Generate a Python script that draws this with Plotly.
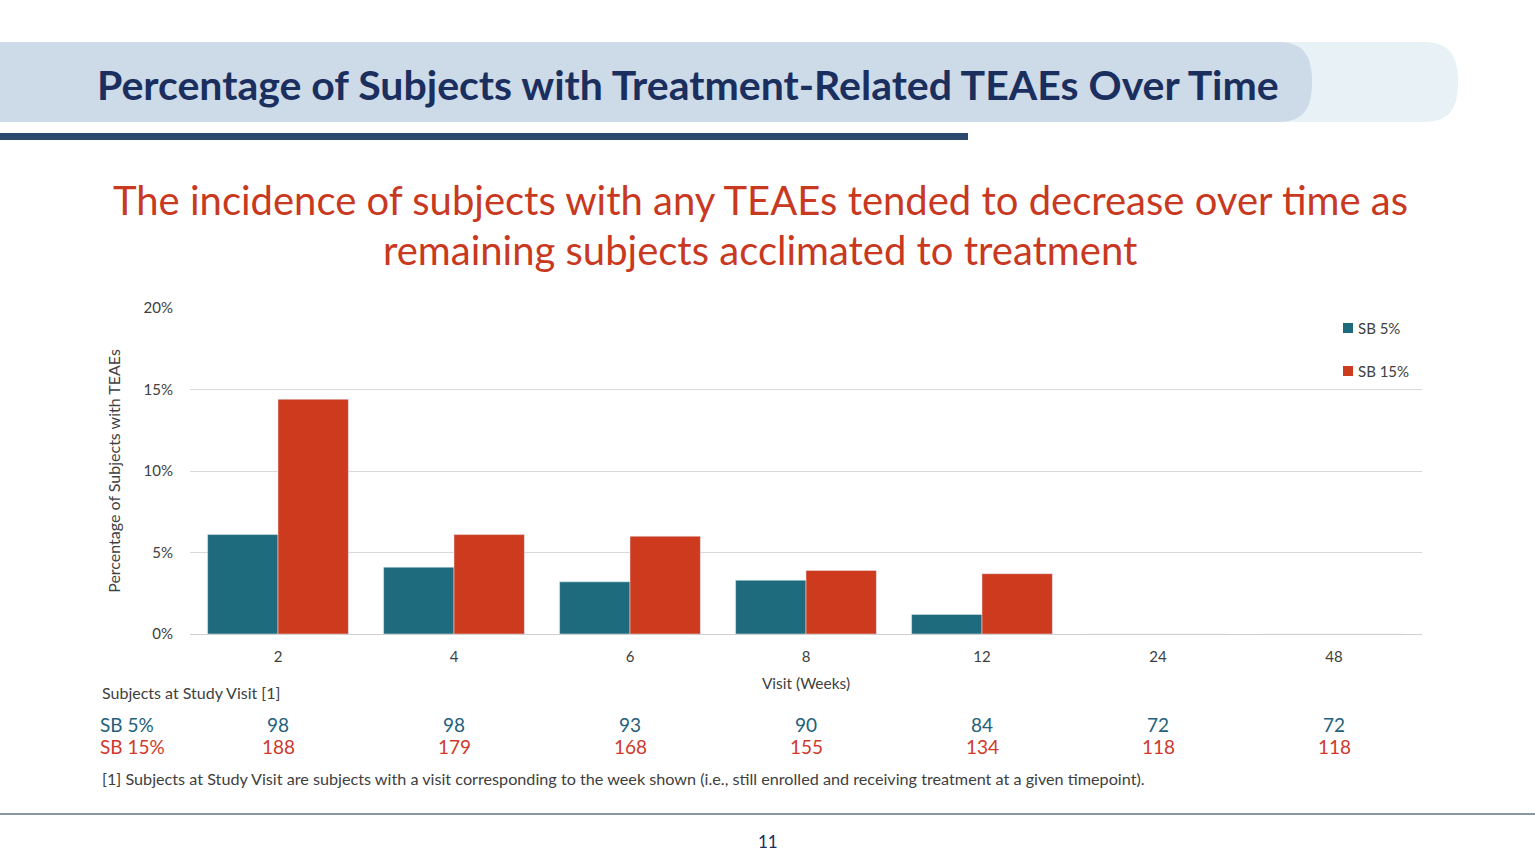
import plotly.graph_objects as go

weeks = ["2", "4", "6", "8", "12", "24", "48"]
sb5_pct = [6.1, 4.1, 3.2, 3.3, 1.2, 0, 0]
sb15_pct = [14.4, 6.1, 6.0, 3.9, 3.7, 0, 0]
sb5_n = [98, 98, 93, 90, 84, 72, 72]
sb15_n = [188, 179, 168, 155, 134, 118, 118]
y_ticks = [0, 5, 10, 15, 20]
y_tick_labels = ["0%", "5%", "10%", "15%", "20%"]
series_names = ["SB 5%", "SB 15%"]

TEAL = "#1F6B7E"
RED = "#CE3A1E"
NAVY = "#1B2F5F"
GRAY = "#404040"
FONT = "Lato"

W, H = 1535, 862
L, R, T, B = 190, 1422, 308, 634


def px(x):
    return (x - L) / (R - L)


def py(y):
    return (B - y) / (B - T)


fig = go.Figure()
fig.add_trace(go.Bar(x=weeks, y=sb5_pct, name=series_names[0], marker_color=TEAL, showlegend=False))
fig.add_trace(go.Bar(x=weeks, y=sb15_pct, name=series_names[1], marker_color=RED, showlegend=False))

shapes = []


def band(x0, x1, y0, y1, r, color):
    path = (f"M {px(x0)},{py(y0)} L {px(x1 - r)},{py(y0)} "
            f"C {px(x1 - r * 0.2)},{py(y0)} {px(x1)},{py(y0 + (y1 - y0) * 0.2)} {px(x1)},{py((y0 + y1) / 2)} "
            f"C {px(x1)},{py(y1 - (y1 - y0) * 0.2)} {px(x1 - r * 0.2)},{py(y1)} {px(x1 - r)},{py(y1)} "
            f"L {px(x0)},{py(y1)} Z")
    return dict(type="path", xref="paper", yref="paper", path=path,
                fillcolor=color, line=dict(width=0), layer="below")


shapes.append(band(0, 1458, 42, 122, 34, "#E8F1F5"))
shapes.append(band(0, 1312, 42, 122, 34, "#CDDAE7"))
shapes.append(dict(type="rect", xref="paper", yref="paper", x0=px(0), x1=px(968),
                   y0=py(133), y1=py(140), fillcolor="#2C4A6E", line=dict(width=0)))
shapes.append(dict(type="line", xref="paper", yref="paper", x0=px(0), x1=px(W),
                   y0=py(814), y1=py(814), line=dict(color="#8A96A6", width=2)))

annotations = []
annotations.append(dict(text="<b>Percentage of Subjects with Treatment-Related TEAEs Over Time</b>",
                        xref="paper", yref="paper", x=px(688), y=py(84), showarrow=False,
                        xanchor="center", yanchor="middle",
                        font=dict(family=FONT, size=41, color=NAVY)))
for txt, yy, anc in [("The incidence of subjects with any TEAEs tended to decrease over time as", 225, "bottom"),
                     ("remaining subjects acclimated to treatment", 225, "top")]:
    annotations.append(dict(text=txt, xref="paper", yref="paper", x=px(760), y=py(yy),
                            showarrow=False, xanchor="center", yanchor=anc, borderpad=0,
                            font=dict(family=FONT, size=40, color="#C8391F")))
annotations.append(dict(text="Subjects at Study Visit [1]", xref="paper", yref="paper",
                        x=px(100), y=py(692), showarrow=False, xanchor="left", yanchor="middle",
                        font=dict(family=FONT, size=16, color=GRAY)))
annotations.append(dict(text=series_names[0], xref="paper", yref="paper",
                        x=px(98), y=py(724), showarrow=False, xanchor="left", yanchor="middle",
                        font=dict(family=FONT, size=19, color="#22617A")))
annotations.append(dict(text=series_names[1], xref="paper", yref="paper",
                        x=px(98), y=py(746), showarrow=False, xanchor="left", yanchor="middle",
                        font=dict(family=FONT, size=19, color="#D0392A")))
for i, (a, b) in enumerate(zip(sb5_n, sb15_n)):
    annotations.append(dict(text=str(a), xref="x", yref="paper", x=i, y=py(724),
                            showarrow=False, xanchor="center", yanchor="middle",
                            font=dict(family=FONT, size=19, color="#22617A")))
    annotations.append(dict(text=str(b), xref="x", yref="paper", x=i, y=py(746),
                            showarrow=False, xanchor="center", yanchor="middle",
                            font=dict(family=FONT, size=19, color="#D0392A")))
annotations.append(dict(text="[1] Subjects at Study Visit are subjects with a visit corresponding to the week shown (i.e., still enrolled and receiving treatment at a given timepoint).",
                        xref="paper", yref="paper", x=px(100), y=py(778), showarrow=False,
                        xanchor="left", yanchor="middle",
                        font=dict(family=FONT, size=16.2, color=GRAY)))
annotations.append(dict(text="11", xref="paper", yref="paper", x=px(768), y=py(841),
                        showarrow=False, xanchor="center", yanchor="middle",
                        font=dict(family=FONT, size=17, color=NAVY)))

# legend (manual, top right)
for name, color, yy in [(series_names[0], TEAL, 328), (series_names[1], RED, 371)]:
    shapes.append(dict(type="rect", xref="paper", yref="paper", x0=px(1343), x1=px(1353),
                       y0=py(yy - 5), y1=py(yy + 5), fillcolor=color, line=dict(width=0)))
    annotations.append(dict(text=name, xref="paper", yref="paper", x=px(1356), y=py(yy),
                            showarrow=False, xanchor="left", yanchor="middle",
                            font=dict(family=FONT, size=15, color=GRAY)))

fig.update_layout(
    width=W, height=H,
    margin=dict(l=L, r=W - R, t=T, b=H - B, pad=0),
    paper_bgcolor="white", plot_bgcolor="white",
    barmode="group", bargap=0.2, bargroupgap=0,
    font=dict(family=FONT, size=15, color=GRAY),
    shapes=shapes, annotations=annotations,
    showlegend=False,
    xaxis=dict(type="category", range=[-0.5, 6.5], showgrid=False, showline=True, linecolor="#D0D0D0",
               linewidth=1, ticks="", ticklabelstandoff=9,
               tickfont=dict(family=FONT, size=15, color=GRAY),
               title=dict(text="Visit (Weeks)", font=dict(family=FONT, size=15.5, color=GRAY), standoff=14)),
    yaxis=dict(range=[0, 20], tickvals=y_ticks, ticktext=y_tick_labels, showgrid=True,
               gridcolor="#D9D9D9", gridwidth=1, zeroline=False, ticks="",
               tickfont=dict(family=FONT, size=15, color=GRAY), ticklabelstandoff=16,
               title=dict(text="Percentage of Subjects with TEAEs",
                          font=dict(family=FONT, size=16, color=GRAY), standoff=18)),
)

fig.write_html("out.html")
